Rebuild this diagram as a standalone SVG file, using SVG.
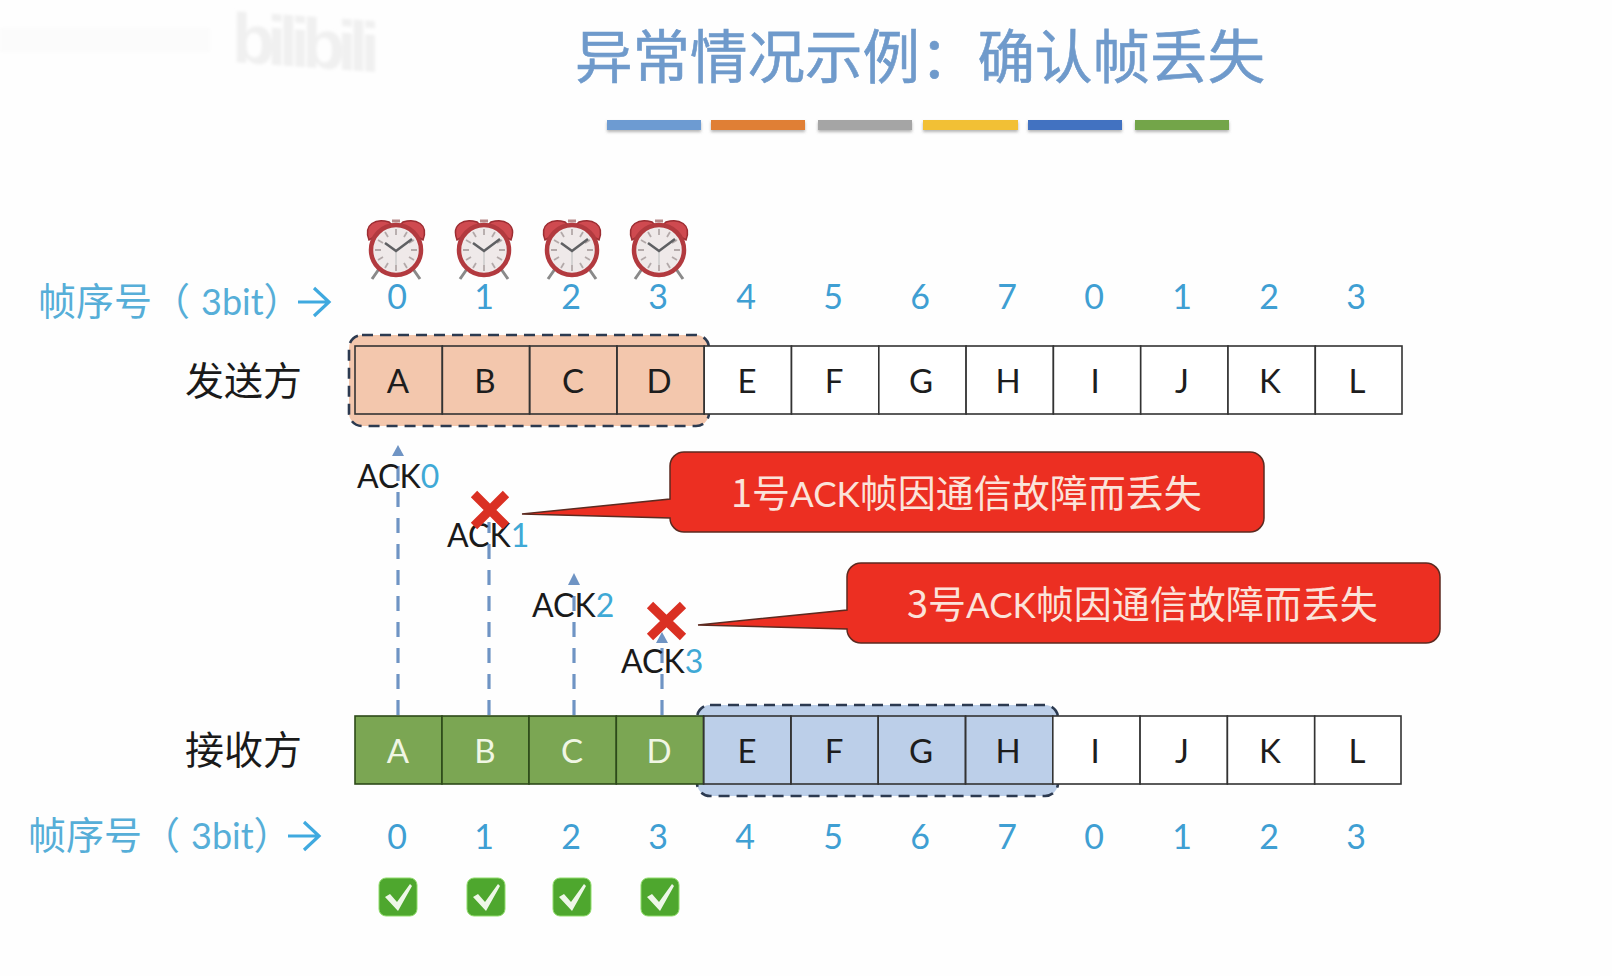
<svg xmlns="http://www.w3.org/2000/svg" xmlns:xlink="http://www.w3.org/1999/xlink" width="1612" height="976" viewBox="0 0 1612 976">
<style>
text{font-family:Lato,"Noto Sans CJK SC",sans-serif}
.cn{font-family:"Noto Sans CJK SC",sans-serif}
.la{font-family:Lato,sans-serif}
.num{font-size:34px;fill:#3f9fd3;text-anchor:middle}
.cell{fill:#fff;stroke:#333;stroke-width:1.6}
.ltr{font-size:33px;fill:#1d1d1d;text-anchor:middle}
.lab{font-size:39px;fill:#1a1a1a}
.seq{font-size:38px;fill:#56aed8}
.seq .la{font-size:36px}
.ack{font-size:32px;fill:#1a1a1a}
.ack tspan{fill:#3fa9d6}
.dash{fill:none;stroke:#6f94c4;stroke-width:3.2;stroke-dasharray:15 11}
.head{fill:#6f94c4}
.call{fill:#ec2f22;stroke:#5c2a20;stroke-width:1.5}
.calltxt{font-size:38px;fill:#fbe3da}
.calltxt .la{font-size:35px}
.x{stroke:#da3023;stroke-width:9;fill:none}
.win{stroke:#2c3a50;stroke-width:2.6;stroke-dasharray:11 7}
</style>
<defs>
<filter id="sh" x="-10%" y="-50%" width="120%" height="220%"><feDropShadow dx="0" dy="2" stdDeviation="1.5" flood-color="#777" flood-opacity=".55"/></filter>
<filter id="bl" x="-10%" y="-10%" width="120%" height="120%"><feGaussianBlur stdDeviation="1.5"/></filter>
<g id="clock">
<path d="M-27,-10 C-33,-26 -20,-32 -7,-28 L-3,-24 Z M27,-10 C33,-26 20,-32 7,-28 L3,-24 Z" fill="#cf4a50" stroke="#9c2d32" stroke-width="1.5"/>
<path d="M-4,-29 H4" stroke="#b88a8a" stroke-width="3"/>
<path d="M-17,19 L-24,29 M17,19 L24,29" stroke="#8a8a8a" stroke-width="3"/>
<circle r="25" cy="0" fill="#efe9e9" stroke="#b23a3f" stroke-width="4.5"/>
<path d="M0,-21V-15M0,21V15M-21,0H-15M21,0H15M-11,-18l3,5M11,-18l-3,5M-11,18l3,-5M11,18l-3,-5M-18,-10l5,3M18,-10l-5,3M-18,10l5,-3M18,10l-5,-3" stroke="#b3a9a9" stroke-width="1.8"/>
<path d="M0,0V15" stroke="#c9c9c9" stroke-width="1.4"/>
<path d="M-11,-7 L0,1 L16,-11" stroke="#5f6063" stroke-width="2.6" fill="none"/>
</g>
<g id="check">
<rect width="38" height="38" rx="7" fill="#4ea72e" stroke="#8fdc6a" stroke-width="1"/>
<path d="M6,19 L11,16 L18,24 L31,6 L33,8 L19,33 Z" fill="#eef7e8"/>
</g>
</defs>
<rect width="1612" height="976" fill="#fefefe"/>

<g id="watermark">
<text x="0" y="0" transform="translate(232,62) skewY(4)" font-size="70" font-weight="700" fill="#f0f0f0" filter="url(#bl)" textLength="148" style="font-family:'Liberation Sans',sans-serif">bilibili</text>
<rect x="0" y="28" width="210" height="24" fill="#fbfbfb" filter="url(#bl)"/>
</g>

<g id="title">
<text class="cn" x="575" y="78" font-size="57.5" fill="#6f9acb" stroke="#6f9acb" stroke-width=".6">异常情况示例：确认帧丢失</text>
<g filter="url(#sh)">
<rect x="607" y="120" width="94" height="10" fill="#6d9bd2"/>
<rect x="711" y="120" width="94" height="10" fill="#e07f35"/>
<rect x="818" y="120" width="94" height="10" fill="#a5a5a5"/>
<rect x="923" y="120" width="95" height="10" fill="#f2c035"/>
<rect x="1028" y="120" width="94" height="10" fill="#4372c1"/>
<rect x="1135" y="120" width="94" height="10" fill="#73a548"/>
</g>
</g>

<g id="clocks">
<use xlink:href="#clock" href="#clock" x="396" y="250"/>
<use xlink:href="#clock" href="#clock" x="484" y="250"/>
<use xlink:href="#clock" href="#clock" x="572" y="250"/>
<use xlink:href="#clock" href="#clock" x="659" y="250"/>
</g>

<g id="seq-top">
<text class="seq cn" x="38" y="315">帧序号（<tspan class="la" dx="11">3bit</tspan>）</text>
<path d="M298,302H328M314,288L329,302L314,316" fill="none" stroke="#3fa9df" stroke-width="3.2"/>
<g class="nums">
<text class="num" x="397" y="309">0</text><text class="num" x="484" y="309">1</text><text class="num" x="571" y="309">2</text><text class="num" x="658" y="309">3</text><text class="num" x="746" y="309">4</text><text class="num" x="833" y="309">5</text><text class="num" x="920" y="309">6</text><text class="num" x="1007" y="309">7</text><text class="num" x="1094" y="309">0</text><text class="num" x="1182" y="309">1</text><text class="num" x="1269" y="309">2</text><text class="num" x="1356" y="309">3</text>
</g>
</g>

<g id="sender">
<text class="lab cn" x="185" y="395">发送方</text>
<rect x="349" y="335" width="360" height="91" rx="13" fill="#f3c7ad" class="win"/>
<g id="sender-cells" fill="none">
<rect class="cell" style="fill:none" x="355" y="346" width="87.3" height="68"/>
<rect class="cell" style="fill:none" x="442.3" y="346" width="87.3" height="68"/>
<rect class="cell" style="fill:none" x="529.6" y="346" width="87.3" height="68"/>
<rect class="cell" style="fill:none" x="616.9" y="346" width="87.3" height="68"/>
<rect class="cell" x="704.2" y="346" width="87.3" height="68"/>
<rect class="cell" x="791.5" y="346" width="87.3" height="68"/>
<rect class="cell" x="878.8" y="346" width="87.3" height="68"/>
<rect class="cell" x="966.1" y="346" width="87.3" height="68"/>
<rect class="cell" x="1053.4" y="346" width="87.3" height="68"/>
<rect class="cell" x="1140.7" y="346" width="87.3" height="68"/>
<rect class="cell" x="1228" y="346" width="87.3" height="68"/>
<rect class="cell" x="1315.3" y="346" width="86.7" height="68"/>
</g>
<text class="ltr" x="398" y="393">A</text><text class="ltr" x="485" y="393">B</text><text class="ltr" x="573" y="393">C</text><text class="ltr" x="659" y="393">D</text><text class="ltr" x="747" y="393">E</text><text class="ltr" x="834" y="393">F</text><text class="ltr" x="921" y="393">G</text><text class="ltr" x="1008" y="393">H</text><text class="ltr" x="1095" y="393">I</text><text class="ltr" x="1182" y="393">J</text><text class="ltr" x="1270" y="393">K</text><text class="ltr" x="1357" y="393">L</text>
</g>

<g id="connectors">
<path class="dash" d="M398,715V456"/>
<path class="head" d="M398,445L404,456H392Z"/>
<path class="dash" d="M489,715V522"/>
<path class="dash" d="M574,715V585"/>
<path class="head" d="M574,573L580,585H568Z"/>
<path class="dash" d="M662,715V642"/>
<path class="head" d="M662,632L668,643H656Z"/>
</g>

<g id="ack-labels">
<text class="ack" x="357" y="488">ACK<tspan>0</tspan></text>
<text class="ack" x="447" y="547">ACK<tspan>1</tspan></text>
<text class="ack" x="532" y="617">ACK<tspan>2</tspan></text>
<text class="ack" x="621" y="673">ACK<tspan>3</tspan></text>
</g>
<g id="lost-1"><path class="x" d="M474,494L506,526M506,494L474,526"/></g>
<g id="lost-3"><path class="x" d="M650,605L683,637M683,605L650,637"/></g>

<g id="callout-1">
<path class="call" d="M684,452H1250a14,14 0 0 1 14,14V518a14,14 0 0 1 -14,14H684a14,14 0 0 1 -14,-14L522,514L670,499V466a14,14 0 0 1 14,-14Z"/>
<text class="calltxt cn" x="731" y="507">1号<tspan class="la">ACK</tspan>帧因通信故障而丢失</text>
</g>
<g id="callout-3">
<path class="call" d="M861,563H1426a14,14 0 0 1 14,14V629a14,14 0 0 1 -14,14H861a14,14 0 0 1 -14,-14L698,625L847,610V577a14,14 0 0 1 14,-14Z"/>
<text class="calltxt cn" x="907" y="618">3号<tspan class="la">ACK</tspan>帧因通信故障而丢失</text>
</g>

<g id="receiver">
<text class="lab cn" x="185" y="764">接收方</text>
<rect x="697" y="705" width="361" height="91" rx="13" fill="#bccfe9" class="win"/>
<g id="receiver-cells">
<rect class="cell" style="fill:#7ba653;stroke:#2d4a1a" x="355" y="716" width="87" height="68"/>
<rect class="cell" style="fill:#7ba653;stroke:#2d4a1a" x="442" y="716" width="87" height="68"/>
<rect class="cell" style="fill:#7ba653;stroke:#2d4a1a" x="529" y="716" width="87.3" height="68"/>
<rect class="cell" style="fill:#7ba653;stroke:#2d4a1a" x="616.3" y="716" width="87.3" height="68"/>
<rect class="cell" style="fill:none" x="703.6" y="716" width="87.3" height="68"/>
<rect class="cell" style="fill:none" x="790.9" y="716" width="87.3" height="68"/>
<rect class="cell" style="fill:none" x="878.2" y="716" width="87.3" height="68"/>
<rect class="cell" style="fill:none" x="965.5" y="716" width="87.3" height="68"/>
<rect class="cell" x="1052.8" y="716" width="87.3" height="68"/>
<rect class="cell" x="1140.1" y="716" width="87.3" height="68"/>
<rect class="cell" x="1227.4" y="716" width="87.3" height="68"/>
<rect class="cell" x="1314.7" y="716" width="86.3" height="68"/>
</g>
<text class="ltr" style="fill:#f0f6e4" x="398" y="763">A</text><text class="ltr" style="fill:#f0f6e4" x="485" y="763">B</text><text class="ltr" style="fill:#f0f6e4" x="572" y="763">C</text><text class="ltr" style="fill:#f0f6e4" x="659" y="763">D</text>
<text class="ltr" x="747" y="763">E</text><text class="ltr" x="834" y="763">F</text><text class="ltr" x="921" y="763">G</text><text class="ltr" x="1008" y="763">H</text><text class="ltr" x="1095" y="763">I</text><text class="ltr" x="1182" y="763">J</text><text class="ltr" x="1270" y="763">K</text><text class="ltr" x="1357" y="763">L</text>
</g>

<g id="seq-bottom">
<text class="seq cn" x="28" y="849">帧序号（<tspan class="la" dx="11">3bit</tspan>）</text>
<path d="M288,836H318M304,822L319,836L304,850" fill="none" stroke="#3fa9df" stroke-width="3.2"/>
<text class="num" x="397" y="849">0</text><text class="num" x="484" y="849">1</text><text class="num" x="571" y="849">2</text><text class="num" x="658" y="849">3</text><text class="num" x="745" y="849">4</text><text class="num" x="833" y="849">5</text><text class="num" x="920" y="849">6</text><text class="num" x="1007" y="849">7</text><text class="num" x="1094" y="849">0</text><text class="num" x="1182" y="849">1</text><text class="num" x="1269" y="849">2</text><text class="num" x="1356" y="849">3</text>
</g>

<g id="checks">
<use xlink:href="#check" href="#check" x="379" y="878"/>
<use xlink:href="#check" href="#check" x="467" y="878"/>
<use xlink:href="#check" href="#check" x="553" y="878"/>
<use xlink:href="#check" href="#check" x="641" y="878"/>
</g>
</svg>
